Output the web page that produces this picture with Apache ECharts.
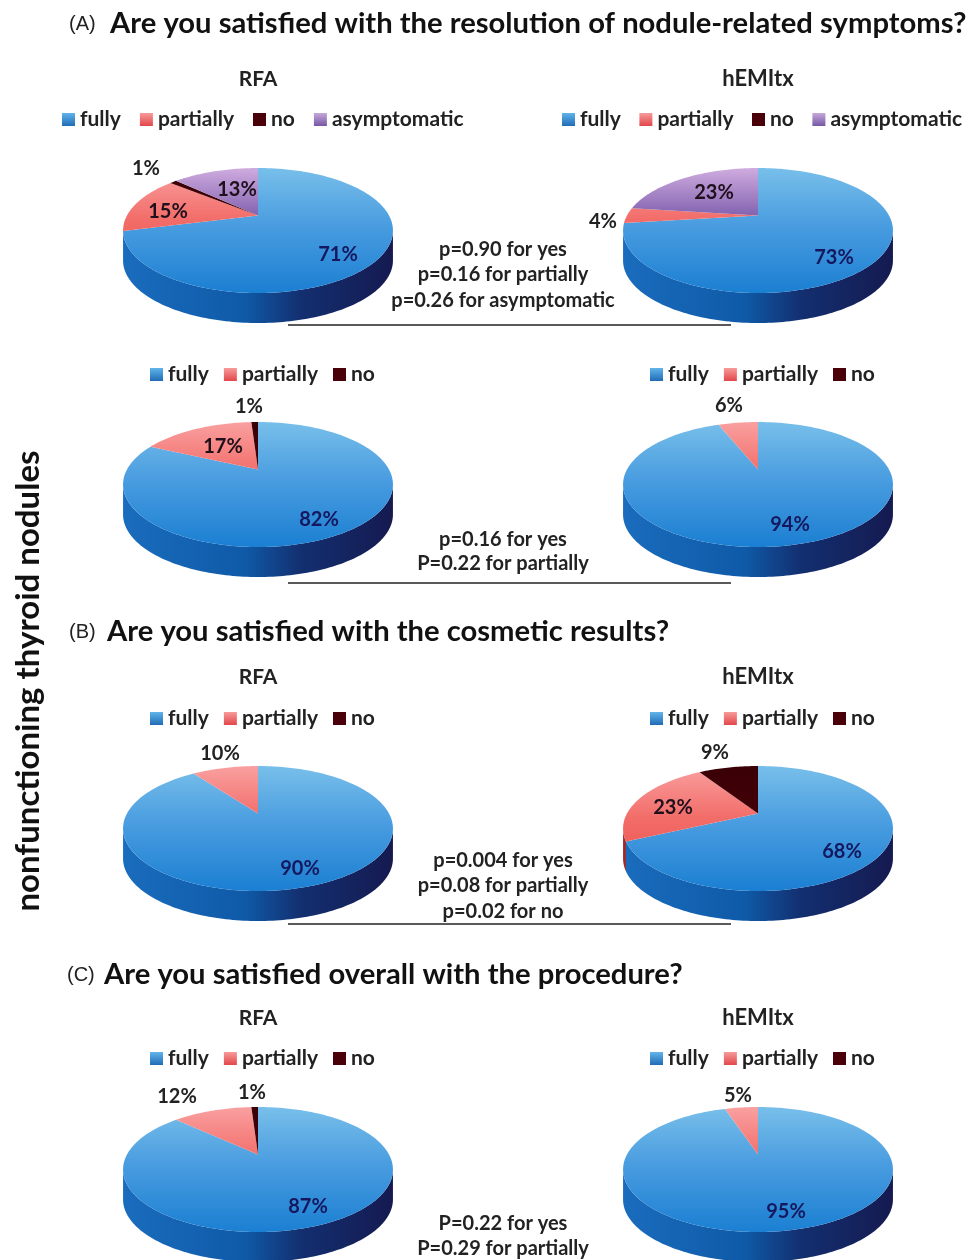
<!DOCTYPE html>
<html><head><meta charset="utf-8">
<style>html,body{margin:0;padding:0;background:#fff}#c{width:970px;height:1260px;filter:blur(0.45px)}</style>
<script src="https://cdn.jsdelivr.net/npm/echarts@6/dist/echarts.min.js"></script>
</head><body><div id="c"></div>
<script>
// ---- data ----
const pieNames = ['A symptoms RFA','A symptoms hEMItx','A symptoms2 RFA','A symptoms2 hEMItx','B cosmetic RFA','B cosmetic hEMItx','C overall RFA','C overall hEMItx'];
const categories = ['fully','partially','no','asymptomatic'];
const fullyValues = [71,73,82,94,90,68,87,95];
const partiallyValues = [15,4,17,6,10,23,12,5];
const noValues = [1,0,1,0,0,9,1,0];
const asymptomaticValues = [13,23,0,0,0,0,0,0];
const headerLabels = ['RFA','hEMItx'];
const questionA = 'Are you satisfied with the resolution of nodule-related symptoms?';
const questionB = 'Are you satisfied with the cosmetic results?';
const questionC = 'Are you satisfied overall with the procedure?';
const sideTitle = 'nonfunctioning thyroid nodules';
const pNotes1 = ['p=0.90 for yes','p=0.16 for partially','p=0.26 for asymptomatic'];
const pNotes2 = ['p=0.16 for yes','P=0.22 for partially'];
const pNotes3 = ['p=0.004 for yes','p=0.08 for partially','p=0.02 for no'];
const pNotes4 = ['P=0.22 for yes','P=0.29 for partially'];
const allValues = [fullyValues,partiallyValues,noValues,asymptomaticValues];

// ---- layout ----
const pieCx = [258,758,258,758,258,758,258,758];
const pieTop = [168,168,422,422,766,766,1107,1107];
const R = 131, RY = 62.5, TIP = 15, DEPTH = 30;
const labelPos = [
 [[338,255],[168,212],[146,169],[237,190]],
 [[834,258],[603,222],null,[714,193]],
 [[319,520],[223,447],[249,407],null],
 [[790,525],[729,406],null,null],
 [[300,869],[220,754],null,null],
 [[842,852],[673,808],[715,753],null],
 [[308,1207],[177,1097],[252,1093],null],
 [[786,1212],[738,1096],null,null]
];
const outsideLabel = {'0-2':1,'1-1':1,'2-2':1,'3-1':1,'4-1':1,'5-2':1,'6-1':1,'6-2':1,'7-1':1};
const FONT = 'Lato, "Open Sans", sans-serif';

function grad(x,y,x2,y2,stops){
  return {type:'linear',x:x,y:y,x2:x2,y2:y2,global:true,
    colorStops:stops.map(s=>({offset:s[0],color:s[1]}))};
}
const topStops = [
 [[0,'#78bfea'],[0.45,'#4a9de0'],[1,'#1b7fd2']],
 [[0,'#f9a0a0'],[0.42,'#f26c68'],[1,'#ea4a45']],
 [[0,'#3a0006'],[1,'#4e0008']],
 [[0,'#cfacdf'],[0.4,'#7f5fae'],[1,'#6f55a6']]
];
const sideStops = [
 [[0,'#1a6cbd'],[0.45,'#0f5aa8'],[0.66,'#132f70'],[1,'#151a50']],
 [[0,'#9a2c2c'],[1,'#6a1a1a']],
 [[0,'#2a0004'],[1,'#2a0004']],
 [[0,'#5a4590'],[1,'#3a2a60']]
];
function project(cx,top,theta){
  const u=Math.sin(theta), v=-Math.cos(theta);
  const d=1-(TIP/RY)*v;
  return [cx+R*u/d, top+RY+(RY*v-TIP)/d];
}
function renderItem(params,api){
  const cat=params.seriesIndex, p=params.dataIndex, val=api.value(1);
  if(!val) return null;
  let before=0;
  for(let i=0;i<cat;i++) before+=allValues[i][p];
  const a0=before/100*2*Math.PI, a1=(before+val)/100*2*Math.PI;
  const cx=pieCx[p], top=pieTop[p];
  const cy=top+RY;
  const rim=[], lower=[];
  const n=Math.max(4,Math.ceil(val*3));
  for(let i=0;i<=n;i++){
    const t=a0+(a1-a0)*i/n, q=project(cx,top,t);
    rim.push(q);
    if(q[1]>=cy) lower.push(q);
  }
  const tip=[cx,cy-TIP];
  const children=[];
  if(lower.length>1){
    const poly=lower.concat(lower.slice().reverse().map(q=>[q[0],q[1]+DEPTH]));
    children.push({type:'polygon',shape:{points:poly},
      style:{fill:grad(cx-135,0,cx+135,0,sideStops[cat])}});
  }
  children.push({type:'polygon',shape:{points:[tip].concat(rim)},
    style:{fill:grad(0,top,0,top+125,topStops[cat])}});
  const lp=labelPos[p][cat];
  if(lp){
    const outside=outsideLabel[p+'-'+cat];
    children.push({type:'text',z2:50,style:{text:val+'%',x:lp[0],y:lp[1],
      align:'center',verticalAlign:'middle',textAlign:'center',textBaseline:'middle',
      font:'700 20px '+FONT,fill:outside?'#222':(cat===0?'#15185e':'#20101c')}});
  }
  return {type:'group',children:children};
}
const legendFill = [
 {type:'linear',x:0,y:0,x2:0,y2:1,colorStops:[{offset:0,color:'#62b4ea'},{offset:1,color:'#1f6cb6'}]},
 {type:'linear',x:0,y:0,x2:0,y2:1,colorStops:[{offset:0,color:'#f79a9a'},{offset:1,color:'#e2474a'}]},
 '#4a0008',
 {type:'linear',x:0,y:0,x2:0,y2:1,colorStops:[{offset:0,color:'#c7a8da'},{offset:1,color:'#7557a5'}]}
];
const series = categories.map((name,ci)=>({
  type:'custom',name:name,coordinateSystem:'none',renderItem:renderItem,silent:true,
  itemStyle:{color:legendFill[ci]},
  data:pieNames.map((pn,pi)=>({name:pn,value:[pi,allValues[ci][pi]]})),
  animation:false
}));
function legend(left,top,cats,gap){
  return {left:left,top:top-10,data:cats,selectedMode:false,icon:'rect',orient:'horizontal',
    itemWidth:13,itemHeight:13,itemGap:gap,padding:0,
    textStyle:{fontFamily:FONT,fontWeight:700,fontSize:21,color:'#222'}};
}
const three=categories.slice(0,3);
const legends=[
 legend(62,119,categories,19), legend(562,119,categories,18.5),
 legend(150,374,three,15), legend(650,374,three,15),
 legend(150,718,three,15), legend(650,718,three,15),
 legend(150,1058,three,15), legend(650,1058,three,15)
];
const g=[];
function txt(s,x,y,font,align,fill,extra){
  g.push(Object.assign({type:'text',style:{text:s,x:x,y:y,font:font,align:align,verticalAlign:'middle',textAlign:align,textBaseline:'middle',fill:fill||'#222'}},extra||{}));
}
const ARIAL='"Liberation Sans", Arial, sans-serif';
txt('(A)',69,24,'400 20px '+ARIAL,'left');
txt(questionA,110,24,'700 29.2px '+FONT,'left','#111');
txt('(B)',69,632,'400 20px '+ARIAL,'left');
txt(questionB,107,632,'700 29.2px '+FONT,'left','#111');
txt('(C)',67,975,'400 20px '+ARIAL,'left');
txt(questionC,104,975,'700 29.2px '+FONT,'left','#111');
[79,677,1018].forEach(y=>{
  txt(headerLabels[0],258,y,'700 21px '+FONT,'center');
  txt(headerLabels[1],758,y,'700 22px '+FONT,'center');
});
function notes(arr,ys){arr.forEach((s,i)=>txt(s,503,ys[i],'700 20px '+FONT,'center'));}
notes(pNotes1,[250,275,301]);
notes(pNotes2,[540,564]);
notes(pNotes3,[861,886,912]);
notes(pNotes4,[1224,1249]);
[325,583,924].forEach(y=>g.push({type:'line',shape:{x1:288,y1:y,x2:731,y2:y},style:{stroke:'#222',lineWidth:1.5},z:10}));
g.push({type:'text',x:28,y:681,rotation:Math.PI/2,originX:0,originY:0,
  style:{text:sideTitle,x:0,y:0,font:'700 33px '+FONT,align:'center',verticalAlign:'middle',textAlign:'center',textBaseline:'middle',fill:'#111'}});

const chart=echarts.init(document.getElementById('c'),null,{renderer:'canvas',width:970,height:1260});
chart.setOption({backgroundColor:'#fff',animation:false,legend:legends,series:series,graphic:{elements:g}});
</script></body></html>
